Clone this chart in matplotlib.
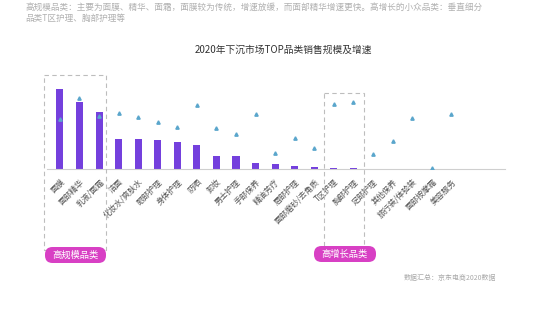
import matplotlib
matplotlib.use("Agg")
import matplotlib.pyplot as plt
from matplotlib.patches import Rectangle, FancyBboxPatch

plt.rcParams['font.family'] = ['Noto Sans CJK SC', 'DejaVu Sans']

categories = ["面膜", "面部精华", "乳液/面霜", "洁面", "化妆水/爽肤水", "眼部护理", "身体护理",
              "防晒", "卸妆", "男士护理", "手部保养", "精油芳疗", "唇部护理", "面部磨砂/去角质",
              "T区护理", "胸部护理", "足部护理", "其他保养", "旅行装/体验装", "面部按摩霜", "美容服务"]
sales = [80, 67, 57, 30, 30, 29, 27, 24, 13, 13, 6, 5, 3, 2, 1.5, 0.7, 0.4, 0.3, 0.3, 0.1, 0]
growth = [50, 71, 53, 56, 52, 47, 42, 64, 41, 35, 55, 16, 31, 21, 65, 67, 15, 28, 51, 1, 55]

title = "2020年下沉市场TOP品类销售规模及增速"
note_lines = ["高规模品类：主要为面膜、精华、面霜，面膜较为传统，增速放缓，而面部精华增速更快。高增长的小众品类：垂直细分",
              "品类T区护理、胸部护理等"]
source = "数据汇总：京东电商2020数据"
tag1 = "高规模品类"
tag2 = "高增长品类"

W, H = 540, 320
fig = plt.figure(figsize=(W / 100, H / 100), dpi=100)

def fx(px):
    return px / W

def fy(py):
    return 1 - py / H

# overlay axes in pixel units for annotation shapes
ov = fig.add_axes([0, 0, 1, 1], zorder=5)
ov.set_xlim(0, W)
ov.set_ylim(H, 0)
ov.axis("off")

# main axes: baseline at y=169px, top at 75px; x from 47 to 505 px
ax = fig.add_axes([fx(47), fy(169), fx(505 - 47), (169 - 75) / H])
x = list(range(len(categories)))
ax.bar(x, sales, width=0.36, color="#7440dd", zorder=2)
ax.set_xlim(-0.66, 22.75)
ax.set_ylim(0, 94)
ax.set_yticks([])
for s in ["top", "right", "left"]:
    ax.spines[s].set_visible(False)
ax.spines["bottom"].set_color("#cfcfcf")
ax.spines["bottom"].set_linewidth(0.8)
ax.set_xticks(x)
ax.set_xticklabels(categories, rotation=45, ha="right", rotation_mode="anchor",
                   fontsize=5.8, color="#555555")
ax.tick_params(axis="x", length=0, pad=6)

ax2 = ax.twinx()
ax2.set_ylim(0, 94)
ax2.plot(x, growth, linestyle="none", marker="^", markersize=2.4, color="#5aa6cc", zorder=3)
ax2.set_yticks([])
for s in ["top", "right", "left", "bottom"]:
    ax2.spines[s].set_visible(False)

# dashed boxes
for (x0, x1, ytop, ybot) in [(44, 106, 75, 250), (324, 364, 93, 250)]:
    ov.add_patch(Rectangle((x0, ytop), x1 - x0, ybot - ytop, fill=False,
                           edgecolor="#bdbdbd", linestyle=(0, (4, 3)), linewidth=0.8))

# pills
for (x0, x1, y0, y1, txt) in [(45, 106, 247, 263, tag1), (314, 376, 246, 262, tag2)]:
    ov.add_patch(FancyBboxPatch((x0, y0), x1 - x0, y1 - y0,
                                boxstyle="round,pad=0,rounding_size=7.5",
                                facecolor="#d840c4", edgecolor="none"))
    ov.text((x0 + x1) / 2, (y0 + y1) / 2, txt, ha="center", va="center",
            fontsize=6.7, color="white")

fig.text(fx(283), fy(50), title, ha="center", va="center", fontsize=7, color="#333333")
fig.text(fx(25), fy(7), note_lines[0], ha="left", va="center", fontsize=6.2, color="#b0b0b0")
fig.text(fx(25), fy(18), note_lines[1], ha="left", va="center", fontsize=6.2, color="#b0b0b0")
fig.text(fx(450), fy(278), source, ha="center", va="center", fontsize=5, color="#aaaaaa")

fig.savefig("out.png", dpi=100)
